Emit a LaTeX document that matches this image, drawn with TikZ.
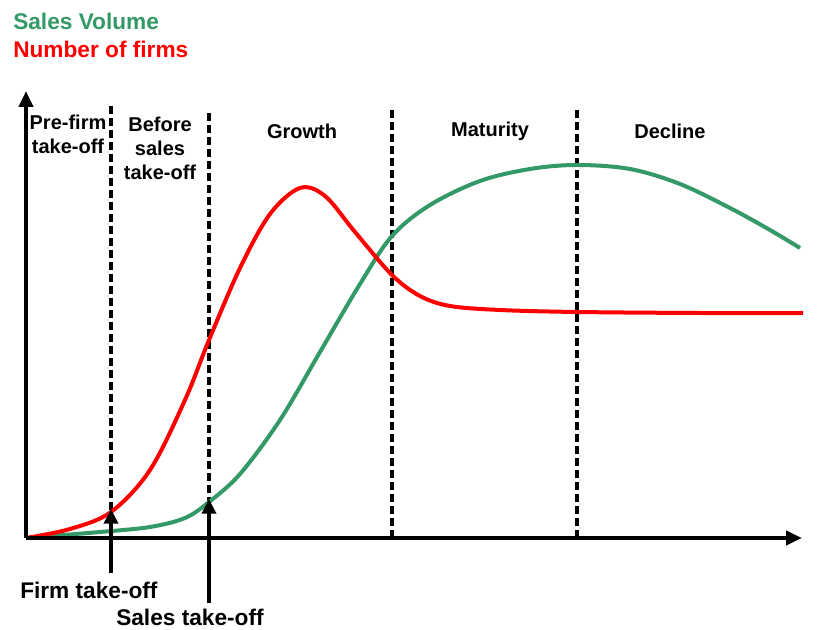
\documentclass[tikz,border=0pt]{standalone}
\usepackage{fontspec}
\setmainfont{Liberation Sans}
\usetikzlibrary{arrows.meta}
\definecolor{sgreen}{RGB}{51,153,102}
\definecolor{fred}{RGB}{255,0,0}
\tikzset{
  axis/.style={line width=3pt,-{Triangle[length=12pt,width=10.5pt]}},
  divider/.style={line width=2.8pt,dash pattern=on 6pt off 3pt},
  lbl/.style={font=\bfseries\fontsize{15}{18}\selectfont,align=center,inner sep=0pt},
  big/.style={font=\bfseries\fontsize{17}{20}\selectfont,inner sep=0pt},
  curve/.style={line width=3pt,line join=round},
  marker/.style={line width=3.2pt,-{Triangle[length=11pt,width=10.5pt]}}
}
\begin{document}
\begin{tikzpicture}[x=0.75pt,y=-0.75pt]
\useasboundingbox (0,0) rectangle (819,630);
\fill[white] (0,0) rectangle (819,630);
% titles
\node[big,anchor=west,text=sgreen] (t1) at (13,21) {Sales Volume};
\node[big,anchor=west,text=fred] (t2) at (13,49) {Number of firms};
% dividers
\coordinate (d1t) at (111,106); \coordinate (d1b) at (111,538);
\coordinate (d2t) at (209,113); \coordinate (d2b) at (209,538);
\coordinate (d3t) at (392,110); \coordinate (d3b) at (392,538);
\coordinate (d4t) at (577,110); \coordinate (d4b) at (577,538);
\draw[divider] (d1t) -- (d1b);
\draw[divider] (d2t) -- (d2b);
\draw[divider] (d3t) -- (d3b);
\draw[divider] (d4t) -- (d4b);
% phase labels
\node[lbl] (p1) at (68,134) {Pre-firm\\take-off};
\node[lbl] (p2) at (160,148) {Before\\sales\\take-off};
\node[lbl] (p3) at (302,131) {Growth};
\node[lbl] (p4) at (490,131) {Maturity};
\node[lbl] (p5) at (670,131) {Decline};
% green curve
\draw[curve,sgreen] plot[smooth,tension=0.55] coordinates {
 (26,538) (100,532) (150,527) (185,518) (209,502) (240,474) (280,420)
 (320,352) (360,284) (392,236) (430,205) (480,181) (530,169) (577,165)
 (630,169) (680,184) (730,208) (770,230) (800,248)};
% red curve
\draw[curve,fred] plot[smooth,tension=0.55] coordinates {
 (26,538) (70,529) (111,512) (150,470) (185,400) (209,340) (240,268)
 (270,214) (300,188) (325,196) (355,232) (392,275) (420,296) (450,306)
 (500,310) (577,312) (700,313) (803,313)};
% axes
\coordinate (o) at (26,538);
\coordinate (ytip) at (26,91);
\coordinate (xtip) at (802,538);
\draw[axis] (o) -- (ytip);
\draw[axis] (o) -- (xtip);
% take-off markers
\coordinate (fa) at (111,573); \coordinate (fb) at (111,509);
\coordinate (sa) at (209,603); \coordinate (sb) at (209,499);
\draw[marker] (fa) -- (fb);
\draw[marker] (sa) -- (sb);
\node[big,anchor=west] (f) at (20,590) {Firm take-off};
\node[big,anchor=west] (s) at (116,617) {Sales take-off};
\end{tikzpicture}
\end{document}
